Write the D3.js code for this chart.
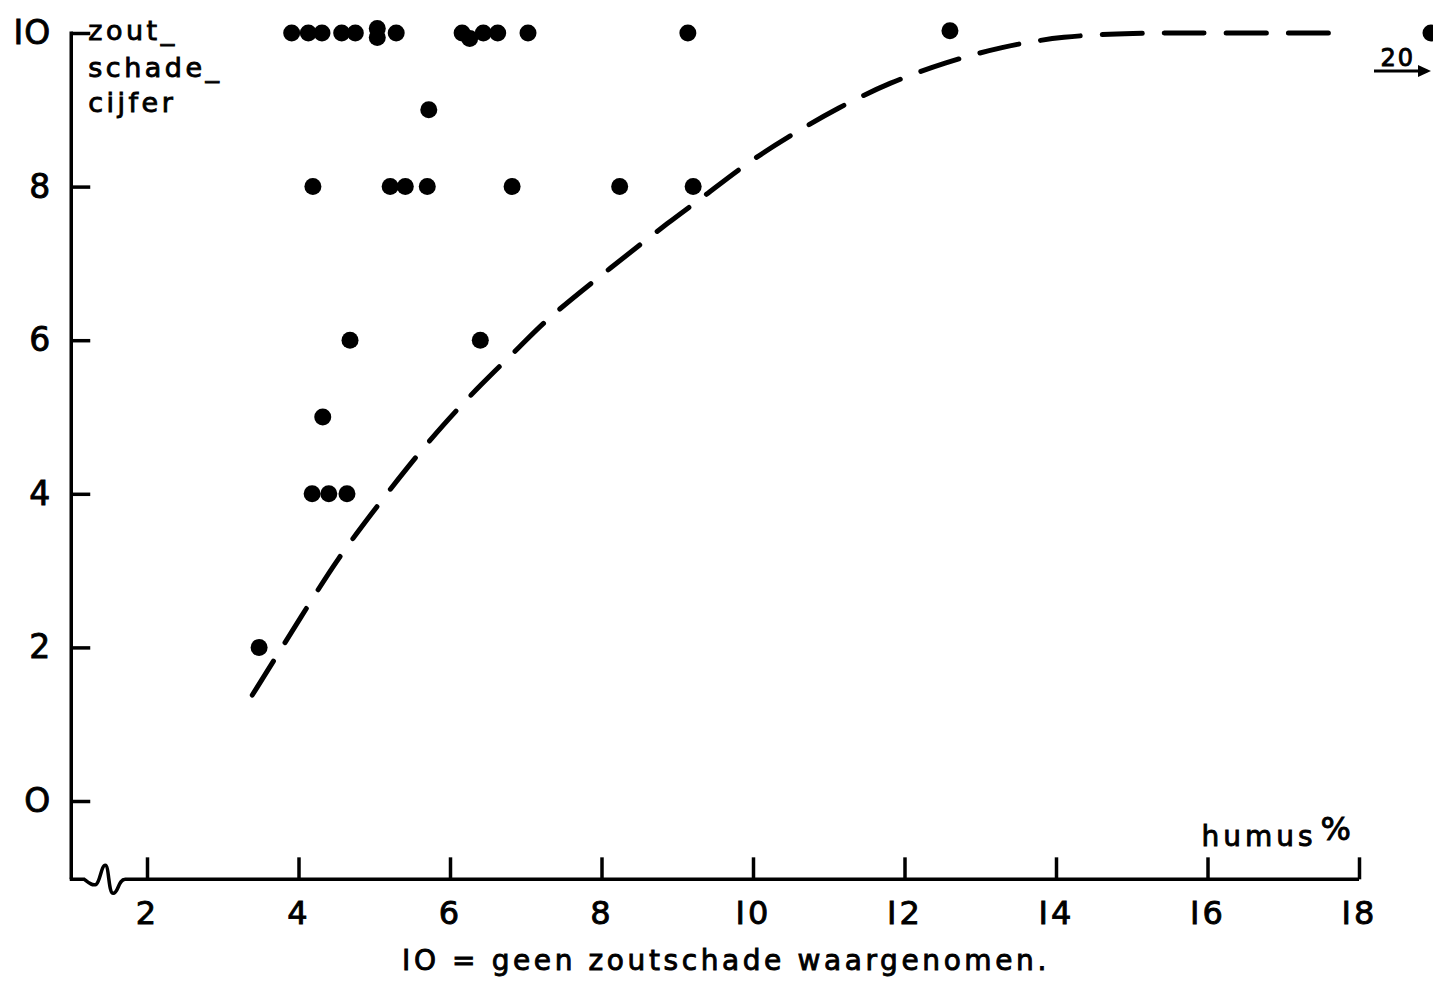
<!DOCTYPE html>
<html>
<head>
<meta charset="utf-8">
<script src="https://cdn.jsdelivr.net/npm/d3@7"></script>
<style>
  html, body { margin: 0; padding: 0; background: #fff; }
  svg { display: block; }
  text { font-family: "DejaVu Sans", sans-serif; fill: #000; stroke: #000; stroke-width: 0.9px; }
</style>
</head>
<body>
<script>
// humus % vs zoutschade-cijfer (10 = geen schade)
let humus = [3.91, 4.13, 4.31, 4.57, 4.75, 5.04, 5.04, 5.29, 6.16, 6.26, 6.44, 6.63, 7.03, 9.14, 12.6,
  5.72,
  4.19, 5.21, 5.41, 5.70, 6.82, 8.24, 9.21,
  4.68, 6.40,
  4.32,
  4.18, 4.40, 4.64,
  3.48]
let cijfer = [10, 10, 10, 10, 10, 10.06, 9.94, 10, 10, 9.93, 10, 10, 10, 10, 10.03,
  9,
  8, 8, 8, 8, 8, 8, 8,
  6, 6,
  5,
  4, 4, 4,
  2]

// one sample lies far off scale (humus 20 %), drawn at the right edge with an arrow
let offScaleHumus = [20]
let offScaleCijfer = [10]

// hand drawn trend line
let curveX = [3.39, 3.72, 4.13, 4.52, 4.97, 5.43, 5.91, 6.40, 6.95, 7.29, 8.13, 8.93, 9.34, 9.92, 10.55, 11.11, 11.81, 12.55, 13.27, 14.09, 15, 16, 17.6]
let curveY = [1.38, 1.90, 2.55, 3.16, 3.75, 4.34, 4.90, 5.42, 5.94, 6.29, 6.95, 7.57, 7.86, 8.31, 8.70, 9.02, 9.36, 9.62, 9.82, 9.96, 10, 10, 10]

let xTicks = [2, 4, 6, 8, 10, 12, 14, 16, 18]
let yTicks = [0, 2, 4, 6, 8, 10]
let yLabels = ['O', '2', '4', '6', '8', 'IO']

let width = 1433, height = 983

let svg = d3.select('body').append('svg')
  .attr('width', width)
  .attr('height', height)

let x = d3.scaleLinear().domain([2, 18]).range([147, 1359])
let y = d3.scaleLinear().domain([0, 10]).range([801, 33])

let axisY0 = -1.02   // where the humus axis sits
let axisX0 = 1.0     // where the cijfer axis sits

// y axis
let gy = svg.append('g')
  .attr('transform', `translate(${x(axisX0)},0)`)
  .call(d3.axisLeft(y).tickValues(yTicks).tickSize(-19).tickPadding(20)
    .tickFormat((d, i) => yLabels[i]))
gy.select('.domain').remove()
gy.selectAll('.tick line').attr('stroke', '#000').attr('stroke-width', 3.5)
gy.selectAll('.tick text').attr('font-size', 33).attr('letter-spacing', 1)

gy.append('line')
  .attr('x1', 0).attr('x2', 0)
  .attr('y1', y(axisY0)).attr('y2', y(10) - 1.5)
  .attr('stroke', '#000').attr('stroke-width', 3.5)

// x axis
let gx = svg.append('g')
  .attr('transform', `translate(0,${y(axisY0)})`)
  .call(d3.axisBottom(x).tickValues(xTicks).tickSize(-22).tickPadding(22)
    .tickFormat(d => String(d).replace(/1/g, 'I')))
gx.select('.domain').remove()
gx.selectAll('.tick line').attr('stroke', '#000').attr('stroke-width', 3.5)
gx.selectAll('.tick text').attr('font-size', 32).attr('letter-spacing', 3)

// axis line with the break squiggle
let x0 = x(axisX0)
let brk = d3.path()
brk.moveTo(x0 - 1.5, 0)
brk.lineTo(x0 + 13, 0)
brk.bezierCurveTo(x0 + 17, 3, x0 + 21, 7, x0 + 25, 5)
brk.bezierCurveTo(x0 + 29, 2, x0 + 30, -14, x0 + 34, -14)
brk.bezierCurveTo(x0 + 38, -14, x0 + 37, 14, x0 + 42, 14)
brk.bezierCurveTo(x0 + 47, 14, x0 + 47, 0, x0 + 54, 0)
brk.lineTo(x(18), 0)
gx.append('path')
  .attr('d', brk.toString())
  .attr('fill', 'none')
  .attr('stroke', '#000')
  .attr('stroke-width', 3.5)

// dashed trend line
let line = d3.line()
  .x(d => x(d[0]))
  .y(d => y(d[1]))
  .curve(d3.curveBasis)
svg.append('path')
  .datum(curveX.map((v, i) => [v, curveY[i]]))
  .attr('d', line)
  .attr('fill', 'none')
  .attr('stroke', '#000')
  .attr('stroke-width', 5)
  .attr('stroke-linecap', 'round')
  .attr('stroke-dasharray', '40 22')

// samples
svg.append('g').selectAll('circle')
  .data(humus.map((v, i) => [v, cijfer[i]]))
  .join('circle')
  .attr('cx', d => x(d[0]))
  .attr('cy', d => y(d[1]))
  .attr('r', 8.5)
  .attr('fill', '#000')

// off-scale sample, pinned at the page edge
let edgeX = x(18) + 72
svg.append('g').selectAll('circle')
  .data(offScaleHumus.map((v, i) => [v, offScaleCijfer[i]]))
  .join('circle')
  .attr('cx', edgeX)
  .attr('cy', d => y(d[1]))
  .attr('r', 8.5)
  .attr('fill', '#000')

let arr = svg.append('g')
arr.append('text')
  .attr('x', edgeX - 16).attr('y', y(10) + 33)
  .attr('text-anchor', 'end')
  .attr('font-size', 24).attr('letter-spacing', 2)
  .text(offScaleHumus[0])
arr.append('line')
  .attr('x1', edgeX - 57).attr('x2', edgeX - 8)
  .attr('y1', y(10) + 38).attr('y2', y(10) + 38)
  .attr('stroke', '#000').attr('stroke-width', 3)
arr.append('path')
  .attr('d', `M${edgeX - 13},${y(10) + 32} L${edgeX},${y(10) + 38} L${edgeX - 13},${y(10) + 44} Z`)
  .attr('fill', '#000')

// y title
let yt = svg.append('text')
  .attr('font-size', 27)
  .attr('letter-spacing', 3.5)
yt.append('tspan').attr('x', x0 + 17).attr('y', 40).text('zout_')
yt.append('tspan').attr('x', x0 + 17).attr('y', 77).text('schade_')
yt.append('tspan').attr('x', x0 + 17).attr('y', 112).text('cijfer')

// x title
let xt = svg.append('text')
  .attr('x', x(18) - 4)
  .attr('y', y(axisY0) - 33)
  .attr('text-anchor', 'end')
  .attr('font-size', 28)
  .attr('letter-spacing', 4)
xt.append('tspan').text('humus')
xt.append('tspan').attr('font-size', 32).attr('dy', -6).attr('dx', 4).text('%')

// note
svg.append('text')
  .attr('x', 726)
  .attr('y', 970)
  .attr('text-anchor', 'middle')
  .attr('font-size', 28)
  .attr('letter-spacing', 3.6)
  .text('IO = geen zoutschade waargenomen.')
</script>
</body>
</html>
